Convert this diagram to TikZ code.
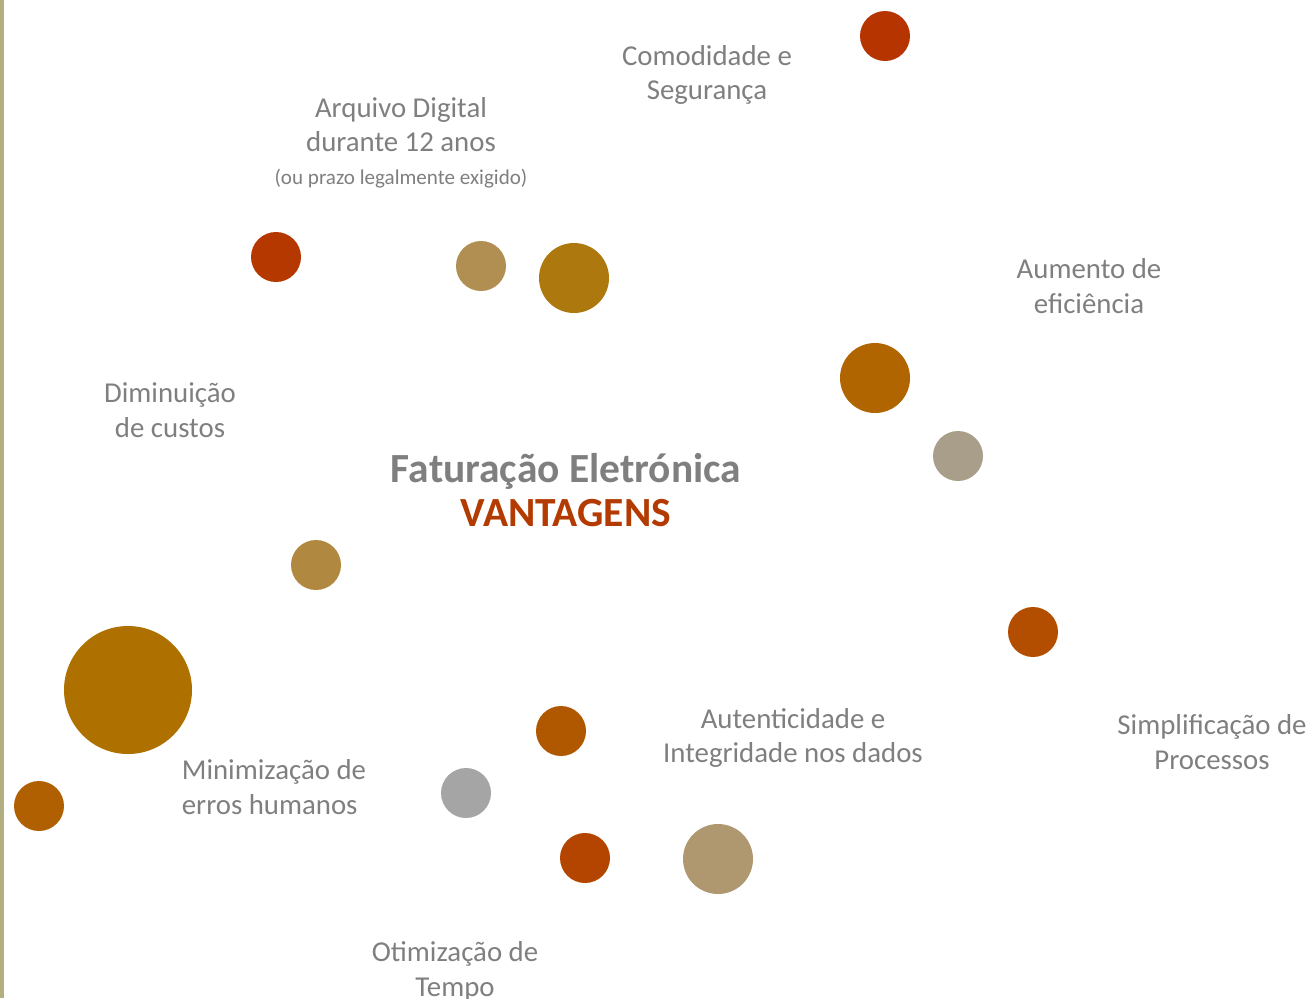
\documentclass[tikz,border=0pt]{standalone}
\usepackage{fontspec}
\setmainfont{Carlito}
\definecolor{txtgray}{HTML}{7F7F7F}
\definecolor{rust}{HTML}{B33A00}
\definecolor{barline}{HTML}{B3AE80}
\begin{document}
\begin{tikzpicture}[x=0.02cm,y=-0.02cm,
  dot/.style={circle, inner sep=0pt, minimum size=#1*0.02cm},
  lbl/.style={text=txtgray, align=center, font=\fontsize{16.4}{19.8}\selectfont}]
  \useasboundingbox (0,0) rectangle (1314,998);
  \fill [color=barline] (0,0) rectangle (4,998);

  % circles
  \node [dot=50, fill={rgb,255:red,181;green,52;blue,0}] (d1) at (885,36) {};
  \node [dot=50, fill={rgb,255:red,181;green,56;blue,0}] (d2) at (276,257) {};
  \node [dot=50, fill={rgb,255:red,177;green,143;blue,82}] (d3) at (481,266) {};
  \node [dot=70, fill={rgb,255:red,173;green,120;blue,14}] (d4) at (574,278) {};
  \node [dot=70, fill={rgb,255:red,176;green,101;blue,0}] (d5) at (875,378) {};
  \node [dot=50, fill={rgb,255:red,168;green,158;blue,137}] (d6) at (958,456) {};
  \node [dot=50, fill={rgb,255:red,179;green,77;blue,0}] (d7) at (1033,632) {};
  \node [dot=50, fill={rgb,255:red,176;green,136;blue,64}] (d8) at (316,565) {};
  \node [dot=128, fill={rgb,255:red,174;green,113;blue,0}] (d9) at (128,690) {};
  \node [dot=50, fill={rgb,255:red,176;green,96;blue,0}] (d10) at (39,806) {};
  \node [dot=50, fill={rgb,255:red,176;green,88;blue,0}] (d11) at (561,731) {};
  \node [dot=50, fill={rgb,255:red,165;green,165;blue,165}] (d12) at (466,793) {};
  \node [dot=50, fill={rgb,255:red,179;green,69;blue,0}] (d13) at (585,858) {};
  \node [dot=70, fill={rgb,255:red,175;green,152;blue,112}] (d14) at (718,859) {};

  % labels
  \node [lbl] (comodidade) at (707,75) {Comodidade e\\Segurança};
  \node [lbl, font=\fontsize{16.4}{19}\selectfont] (arquivo) at (401,143) {Arquivo Digital\\durante 12 anos\\{\fontsize{12}{14}\selectfont(ou prazo legalmente exigido)}};
  \node [lbl] (aumento) at (1089,286) {Aumento de\\eficiência};
  \node [lbl] (diminuicao) at (170,410) {Diminuição\\de custos};
  \node [align=center, font=\bfseries\fontsize{23.6}{25.5}\selectfont] (titulo) at (566,490)
    {\textcolor{txtgray}{Faturação Eletrónica}\\\textcolor{rust}{VANTAGENS}};
  \node [lbl] (autenticidade) at (793,738) {Autenticidade e\\Integridade nos dados};
  \node [lbl] (simplificacao) at (1212,742) {Simplificação de\\Processos};
  \node [lbl, align=left] (minimizacao) at (274,787) {Minimização de\\erros humanos};
  \node [lbl] (otimizacao) at (455,971) {Otimização de\\Tempo};
\end{tikzpicture}
\end{document}
